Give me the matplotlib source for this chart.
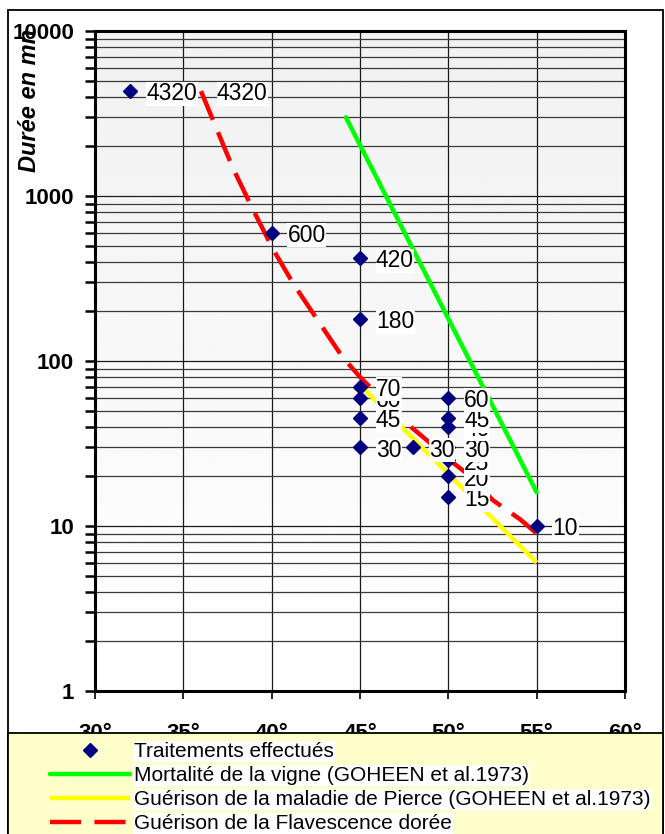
import matplotlib.pyplot as plt
import matplotlib.patches as mpatches
from matplotlib.ticker import LogLocator, NullFormatter
import numpy as np

plt.rcParams['font.family'] = ['Liberation Sans', 'DejaVu Sans']

# traitements effectués : température (°C), durée (mn)
temp_trait = [32, 40, 45, 45, 45, 45, 45, 45, 48, 50, 50, 50, 50, 50, 50, 50, 55]
duree_trait = [4320, 600, 420, 180, 60, 70, 45, 30, 30, 15, 20, 25, 30, 40, 45, 60, 10]

# mortalité de la vigne (GOHEEN et al.1973)
temp_mort = [44.2, 55]
duree_mort = [3000, 16]

# guérison de la maladie de Pierce (GOHEEN et al.1973)
temp_pierce = [45.2, 55]
duree_pierce = [68, 6]

# guérison de la flavescence dorée
temp_fd = [36, 37.8, 38.9, 40.1, 41.2, 42.6, 44.0, 45.0, 45.9, 47.4, 48.8, 50.3, 51.0, 52.5, 54.1, 55.0]
duree_fd = [4320, 1480, 845, 471, 297, 177, 106, 80, 64, 44, 33, 24, 21, 14.4, 10.9, 9]
label_fd = "4320"

xticks = [30, 35, 40, 45, 50, 55, 60]
yticks = [1, 10, 100, 1000, 10000]

noms = ["Traitements effectués",
        "Mortalité de la vigne (GOHEEN et al.1973)",
        "Guérison de la maladie de Pierce (GOHEEN et al.1973)",
        "Guérison de la Flavescence dorée"]

W, H = 665, 834
fig = plt.figure(figsize=(W / 100, H / 100), dpi=100)
pos = [95 / W, 1 - 691 / H, 530 / W, 660 / H]

# fond dégradé gris -> blanc
bg = fig.add_axes(pos, zorder=-0.5)
grad = np.linspace(0.945, 1.0, 256)[:, None]
bg.imshow(grad, cmap='gray', vmin=0, vmax=1, aspect='auto')
bg.axis('off')

ax = fig.add_axes(pos)
ax.set_facecolor('none')
ax.set_yscale('log')
ax.set_xlim(30, 60)
ax.set_ylim(1, 10000)

ax.set_axisbelow(True)
ax.grid(which='major', axis='both', color='#1a1a1a', lw=0.9)
ax.grid(which='minor', axis='y', color='#3a3a3a', lw=0.9)

l_mort, = ax.plot(temp_mort, duree_mort, color='#00FF00', lw=3.2, solid_capstyle='round', zorder=3)
l_pierce, = ax.plot(temp_pierce, duree_pierce, color='#FFFF00', lw=3.2, solid_capstyle='butt', zorder=3)
l_fd, = ax.plot(temp_fd, duree_fd, color='#FF0000', lw=3.2, dashes=(7, 3), zorder=3)
l_trait, = ax.plot(temp_trait, duree_trait, 'D', color='#000080', ms=7, ls='none', zorder=4)

lab_style = dict(xytext=(11.5, -2), textcoords='offset points', ha='left', va='center',
                 fontsize=16.5, zorder=10,
                 bbox=dict(boxstyle='square,pad=0.02', fc='white', ec='none'))
for t, d in zip(temp_trait, duree_trait):
    ax.annotate(str(d), (t, d), **lab_style)
ax.annotate(label_fd, (temp_fd[0], duree_fd[0]), **lab_style)

ax.set_xticks(xticks)
ax.set_xticklabels([f"{v}°" for v in xticks])
ax.set_yticks(yticks)
ax.set_yticklabels([str(v) for v in yticks])
ax.yaxis.set_minor_locator(LogLocator(base=10, subs=np.arange(2, 10)))
ax.yaxis.set_minor_formatter(NullFormatter())

for s in ax.spines.values():
    s.set_linewidth(2.2)
    s.set_color('black')

ax.tick_params(axis='y', which='both', direction='out', length=7, width=1.8, pad=8)
ax.tick_params(axis='x', which='major', direction='out', length=6, width=1.2, pad=17)
for lab in ax.get_xticklabels() + ax.get_yticklabels():
    lab.set_fontsize(16)
    lab.set_fontweight('bold')

fig.text(29 / W, 1 - 100 / H, "Durée en mn", rotation=90, ha='center', va='center',
         fontsize=17, fontweight='bold', fontstyle='italic', zorder=-1)

# cadre extérieur
fig.add_artist(mpatches.Rectangle((8 / W, -0.02), 655 / W, (834 - 10) / H + 0.02,
                                  transform=fig.transFigure, fill=False, ec='black', lw=1.3, zorder=-1))
# zone de légende
fig.add_artist(mpatches.Rectangle((8 / W, -0.02), 655 / W, (834 - 733) / H + 0.02,
                                  transform=fig.transFigure, fc='#FFFFCC', ec='black', lw=1.3, zorder=5))

leg = fig.legend([l_trait, l_mort, l_pierce, l_fd], noms, loc='upper left',
                 bbox_to_anchor=(50 / W, 1 - 742 / H), frameon=False, fontsize=15,
                 handlelength=3.85, handletextpad=0.2, labelspacing=0.24,
                 borderpad=0, borderaxespad=0, numpoints=1)
leg.set_zorder(6)
for t in leg.get_texts():
    t.set_bbox(dict(fc='white', ec='none', pad=0.5))

fig.savefig('out.png', dpi=100)
